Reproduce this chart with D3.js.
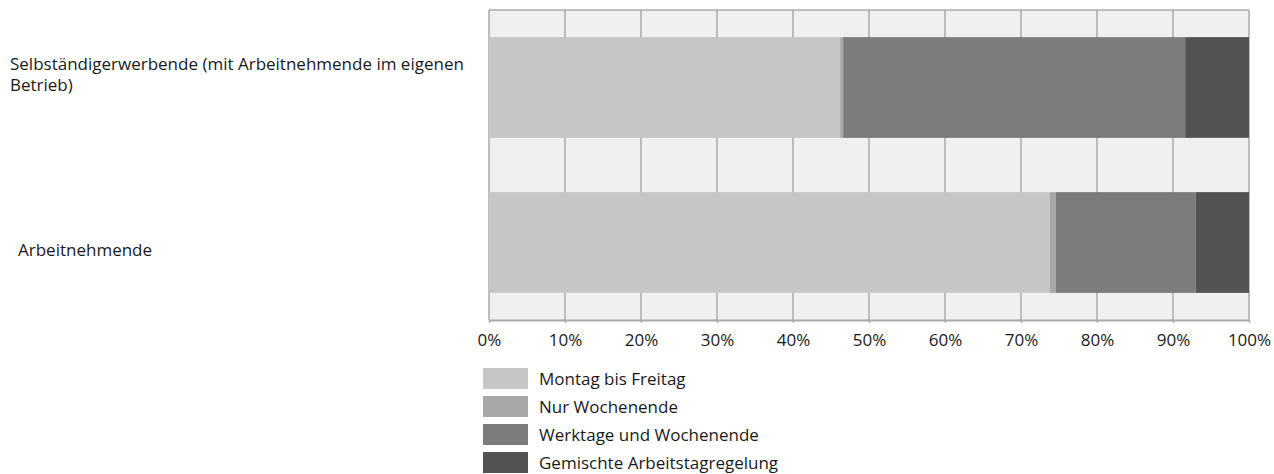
<!DOCTYPE html>
<html>
<head>
<meta charset="utf-8">
<script src="https://cdn.jsdelivr.net/npm/d3@7"></script>
<style>
  body { margin: 0; background: #fff; }
  svg text { font-family: "Open Sans", "Noto Sans", sans-serif; fill: #1a1a1a; }
</style>
</head>
<body>
<div id="chart"></div>
<script>
const categories = ['Selbständigerwerbende (mit Arbeitnehmende im eigenen Betrieb)', 'Arbeitnehmende'];
const seriesNames = ['Montag bis Freitag', 'Nur Wochenende', 'Werktage und Wochenende', 'Gemischte Arbeitstagregelung'];
const montagBisFreitag = [46.2, 73.8];
const nurWochenende = [0.4, 0.8];
const werktageUndWochenende = [45.0, 18.4];
const gemischte = [8.4, 7.0];
const xTicks = [0, 10, 20, 30, 40, 50, 60, 70, 80, 90, 100];

const colors = ['#c5c6c8', '#a7a8aa', '#7b7c7e', '#535355'];

const CONFIG = {
  width: 1274,
  height: 474,
  plot: { left: 489, right: 1249, top: 10, bottom: 320 },
  fontSize: 17,
  gridColor: '#a9aaaa',
  plotBg: '#eff0ef'
};

const rows = categories.map((c, i) => ({
  category: c,
  'Montag bis Freitag': montagBisFreitag[i],
  'Nur Wochenende': nurWochenende[i],
  'Werktage und Wochenende': werktageUndWochenende[i],
  'Gemischte Arbeitstagregelung': gemischte[i]
}));

const stacked = d3.stack().keys(seriesNames)(rows);

const { plot } = CONFIG;

const svg = d3.select('#chart').append('svg')
  .attr('width', CONFIG.width)
  .attr('height', CONFIG.height);

const x = d3.scaleLinear().domain([0, 100]).range([plot.left, plot.right]);
const y = d3.scaleBand().domain(categories)
  .range([plot.top, plot.bottom])
  .paddingInner(0.35).paddingOuter(0.175);

// plot background
svg.append('rect')
  .attr('x', plot.left).attr('y', plot.top)
  .attr('width', plot.right - plot.left)
  .attr('height', plot.bottom - plot.top)
  .attr('fill', CONFIG.plotBg);

// grid
svg.append('g').selectAll('line')
  .data(xTicks)
  .join('line')
  .attr('x1', d => x(d)).attr('x2', d => x(d))
  .attr('y1', plot.top).attr('y2', plot.bottom)
  .attr('stroke', CONFIG.gridColor)
  .attr('stroke-width', 1.5);

svg.append('line')
  .attr('x1', plot.left).attr('x2', plot.right)
  .attr('y1', plot.top).attr('y2', plot.top)
  .attr('stroke', CONFIG.gridColor)
  .attr('stroke-width', 1.5);

// bars
svg.append('g').selectAll('g')
  .data(stacked)
  .join('g')
  .attr('fill', (d, i) => colors[i])
  .selectAll('rect')
  .data(d => d)
  .join('rect')
  .attr('x', d => x(d[0]))
  .attr('width', d => x(d[1]) - x(d[0]))
  .attr('y', d => y(d.data.category))
  .attr('height', y.bandwidth());

// x axis
const axis = d3.axisBottom(x)
  .tickValues(xTicks)
  .tickFormat(d => d + '%')
  .tickSizeInner(3)
  .tickSizeOuter(0)
  .tickPadding(11);

const $axis = svg.append('g')
  .attr('transform', `translate(0, ${plot.bottom})`)
  .call(axis);
$axis.select('.domain').attr('stroke', CONFIG.gridColor).attr('stroke-width', 2);
$axis.selectAll('.tick line').attr('stroke', CONFIG.gridColor).attr('stroke-width', 1.5);
$axis.selectAll('.tick text')
  .style('font-family', '"Open Sans", "Noto Sans", sans-serif')
  .style('font-size', CONFIG.fontSize + 'px')
  .attr('fill', '#1a1a1a');

// category labels, wrapped
const labelMaxWidth = 465;
const labels = svg.append('g').selectAll('text')
  .data(categories)
  .join('text')
  .attr('font-size', CONFIG.fontSize);

labels.each(function(d, i) {
  const $t = d3.select(this);
  const words = d.split(' ');
  const lines = [];
  let line = [];
  const probe = $t.append('tspan');
  words.forEach(w => {
    line.push(w);
    probe.text(line.join(' '));
    if (probe.node().getComputedTextLength() > labelMaxWidth && line.length > 1) {
      line.pop();
      lines.push(line.join(' '));
      line = [w];
    }
  });
  lines.push(line.join(' '));
  probe.remove();
  const lh = 21;
  const cy = y(d) + y.bandwidth() / 2;
  const startX = i === 0 ? 10 : 18;
  // the first label sits higher than its bar centre, the second lower
  const yOff = i === 0 ? -7 : 13;
  lines.forEach((l, k) => {
    $t.append('tspan')
      .attr('x', startX)
      .attr('y', cy - ((lines.length - 1) * lh) / 2 + k * lh + yOff)
      .text(l);
  });
});

// legend
const legend = svg.append('g')
  .attr('transform', 'translate(483, 368)');
const items = legend.selectAll('g')
  .data(seriesNames)
  .join('g')
  .attr('transform', (d, i) => `translate(0, ${i * 28})`);
items.append('rect')
  .attr('width', 45).attr('height', 21)
  .attr('fill', (d, i) => colors[i]);
items.append('text')
  .attr('x', 56).attr('y', 17)
  .attr('font-size', CONFIG.fontSize)
  .text(d => d);
</script>
</body>
</html>
